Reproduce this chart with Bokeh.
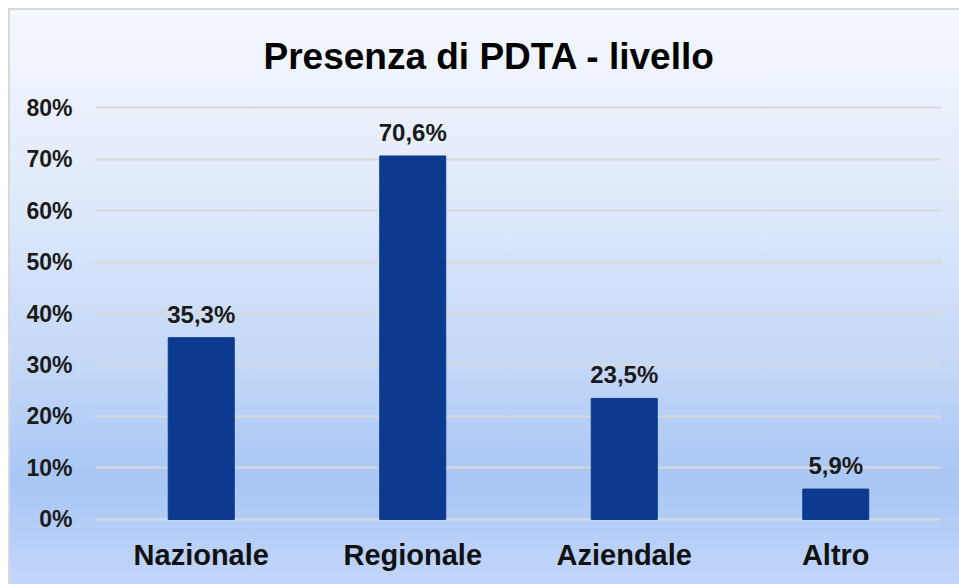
from bokeh.plotting import figure
from bokeh.models import (ColumnDataSource, FactorRange, Range1d, LabelSet,
                          FixedTicker, NumeralTickFormatter)
from bokeh.core.properties import value
from bokeh.embed import file_html
from bokeh.resources import INLINE

# ---- data ----
categories = ["Nazionale", "Regionale", "Aziendale", "Altro"]
values = [0.353, 0.706, 0.235, 0.059]
value_labels = ["35,3%", "70,6%", "23,5%", "5,9%"]
y_ticks = [0.0, 0.1, 0.2, 0.3, 0.4, 0.5, 0.6, 0.7, 0.8]
title_text = "Presenza di PDTA - livello"

FONT = "Liberation Sans"
BAR_COLOR = "#0B3A8F"

src = ColumnDataSource(dict(cat=categories, val=values, lab=value_labels))

p = figure(
    x_range=FactorRange(factors=categories),
    y_range=Range1d(-0.004, 0.806),
    width=959, height=584,
    output_backend="svg", toolbar_location=None,
    min_border_left=95, min_border_right=18,
    min_border_top=104, min_border_bottom=63,
    title=title_text,
)

# transparent canvas; chart box with border + gradient via CSS backgrounds
p.background_fill_alpha = 0
p.border_fill_alpha = 0
p.outline_line_color = None
p.styles = {
    "background": (
        "linear-gradient(#D9D9D9, #D9D9D9) 8px 8px / 951px 2px no-repeat, "
        "linear-gradient(#D9D9D9, #D9D9D9) 8px 8px / 2px 576px no-repeat, "
        "linear-gradient(to bottom, #F5F8FE 0%, #E2EBFB 30%, #C6D9F8 60%, "
        "#A9C6F5 82%, #C2D6FA 100%) 8px 8px / 951px 576px no-repeat, #FFFFFF"
    ),
}

p.vbar(x="cat", top="val", width=0.312, source=src,
       fill_color=BAR_COLOR, line_color=BAR_COLOR)

labels = LabelSet(x="cat", y="val", text="lab", source=src,
                  y_offset=15, text_align="center", text_baseline="alphabetic",
                  text_font=value(FONT), text_font_style="bold",
                  text_font_size="24px", text_color="#1A1A1A")
p.add_layout(labels)

# title
p.title.text_font = FONT
p.title.text_font_size = "37px"
p.title.text_font_style = "bold"
p.title.text_color = "#000000"
p.title.align = "left"
p.title.offset = 168
p.title.standoff = 55

# grid
p.xgrid.grid_line_color = None
p.ygrid.grid_line_color = "#D9D9D9"
p.ygrid.grid_line_width = 2
p.ygrid.ticker = FixedTicker(ticks=y_ticks)

# y axis
p.yaxis.ticker = FixedTicker(ticks=y_ticks)
p.yaxis.formatter = NumeralTickFormatter(format="0%")
p.yaxis.axis_line_color = None
p.yaxis.major_tick_line_color = None
p.yaxis.minor_tick_line_color = None
p.yaxis.major_label_standoff = 17
p.yaxis.major_label_text_font = FONT
p.yaxis.major_label_text_font_style = "bold"
p.yaxis.major_label_text_font_size = "23px"
p.yaxis.major_label_text_color = "#1A1A1A"

# x axis
p.xaxis.axis_line_color = None
p.xaxis.major_tick_line_color = None
p.xaxis.minor_tick_line_color = None
p.xaxis.major_label_standoff = 11
p.xaxis.major_label_text_font = FONT
p.xaxis.major_label_text_font_style = "bold"
p.xaxis.major_label_text_font_size = "29px"
p.xaxis.major_label_text_color = "#111111"

open("out.html", "w").write(file_html(p, INLINE))
